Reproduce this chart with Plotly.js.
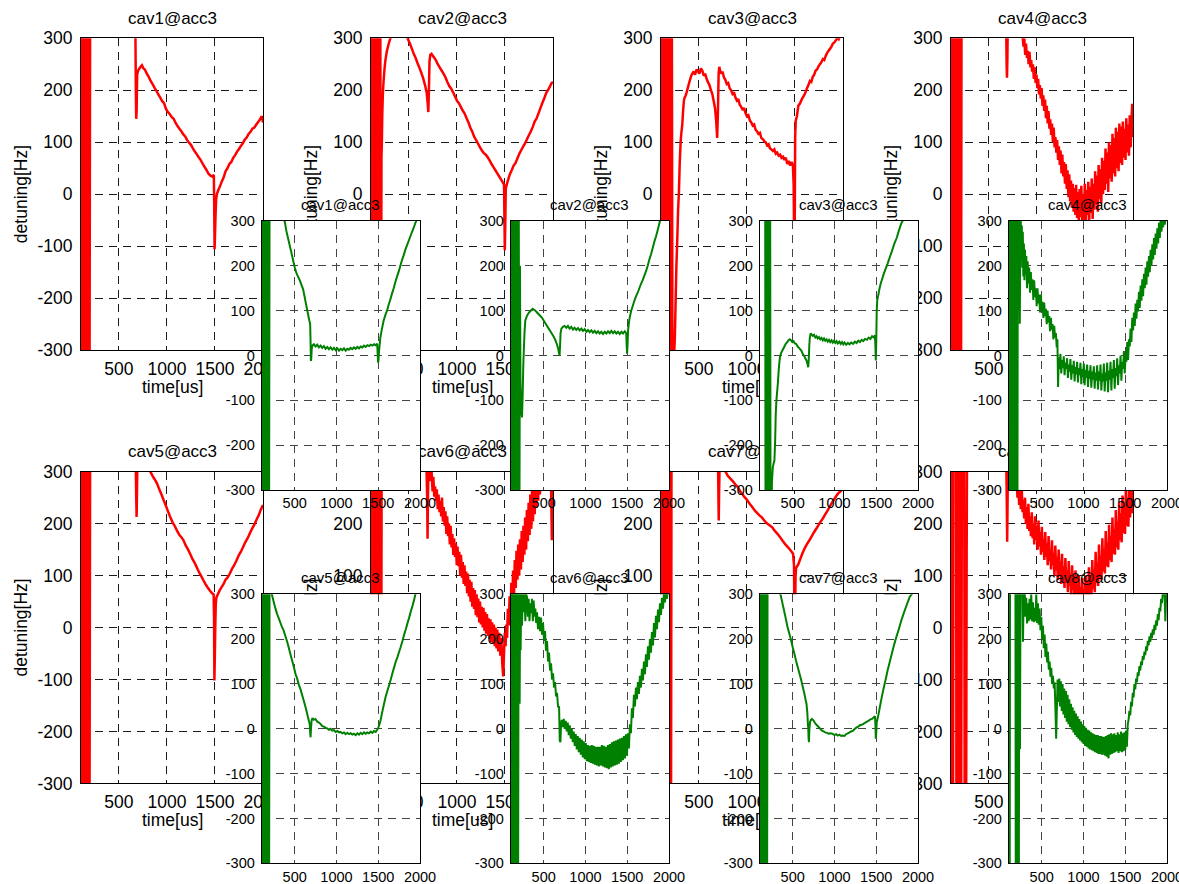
<!DOCTYPE html>
<html><head><meta charset="utf-8">
<script src="https://cdn.plot.ly/plotly-3.0.1.min.js"></script>
<style>
html,body{margin:0;padding:0;background:#fff;}
#red,#green{position:absolute;left:0;top:0;width:1179px;height:884px;}
</style>
</head><body>
<div id="red"></div><div id="green"></div>
<script>
// ---------------- data ----------------
const titles = ['cav1@acc3','cav2@acc3','cav3@acc3','cav4@acc3','cav5@acc3','cav6@acc3','cav7@acc3','cav8@acc3'];
const xTitle = 'time[us]';
const yTitle = 'detuning[Hz]';
const xTickVals = [500,1000,1500,2000];
const xTickText = ['500','1000','1500','2000'];
const yTickVals = [-300,-200,-100,0,100,200,300];
const yTickText = ['-300','-200','-100','0','100','200','300'];
const timeRange = [105, 2000];
const detRange = [-300, 300];

// red series: [time us, detuning Hz]
const red1 = [[105,450],[113,-450],[121,450],[129,-450],[137,450],[145,-450],[153,450],[161,-450],[169,450],[177,-450],[185,450],[193,-450],[201,450],
[400,420],[660,330],[672,300],[676,200],[680,145],[684,160],[690,230],[700,238],[710,241],[725,245],[740,248],[755,242],[770,240],[790,232],[810,226],[830,218],[850,212],[870,205],[890,199],[910,192],[930,186],[950,179],[970,175],[990,164],[1010,158],[1030,154],[1050,148],[1070,145],[1090,137],[1110,131],[1130,126],[1150,121],[1170,115],[1190,111],[1210,104],[1230,99],[1250,95],[1270,88],[1290,82],[1310,77],[1330,71],[1350,66],[1370,59],[1390,53],[1410,47],[1430,40],[1450,36],[1470,34],[1488,37],[1492,-20],[1496,-106],[1500,-80],[1506,-40],[1512,-10],[1520,0],[1535,8],[1550,14],[1570,24],[1590,32],[1610,44],[1630,50],[1650,58],[1670,62],[1690,70],[1710,75],[1730,82],[1750,87],[1770,93],[1790,98],[1810,105],[1830,109],[1850,116],[1870,120],[1890,126],[1910,128],[1930,134],[1950,139],[1970,144],[1985,150],[1993,146],[2000,138]];

const red2 = [[105,450],[113,-450],[121,450],[129,-450],[137,450],[145,-450],[153,450],[161,-450],[169,450],[177,-450],[185,450],[193,-450],[201,450],[209,-450],
[214,70],[218,100],[222,150],[228,190],[235,215],[245,240],[255,258],[270,275],[290,290],[310,302],[330,315],[400,330],[470,310],[490,298],[510,290],[530,280],[550,270],[570,262],[590,252],[610,243],[630,233],[650,222],[670,208],[685,195],[695,175],[702,158],[708,200],[714,255],[722,268],[735,270],[750,266],[765,262],[780,258],[800,250],[820,244],[840,238],[860,232],[880,225],[900,216],[920,208],[940,203],[960,196],[980,188],[1000,180],[1020,175],[1040,168],[1060,161],[1080,155],[1100,146],[1120,138],[1140,128],[1160,120],[1180,110],[1200,104],[1220,97],[1240,90],[1260,84],[1280,79],[1300,76],[1320,71],[1340,65],[1360,58],[1380,52],[1400,46],[1420,40],[1440,34],[1460,28],[1480,22],[1490,18],[1494,-40],[1498,-108],[1503,-60],[1508,10],[1515,16],[1530,26],[1550,38],[1570,46],[1590,55],[1610,60],[1630,69],[1650,78],[1670,85],[1690,92],[1710,98],[1730,106],[1750,114],[1770,121],[1790,130],[1810,140],[1830,146],[1850,156],[1870,166],[1890,176],[1910,185],[1930,195],[1950,201],[1970,208],[1985,214],[2000,216]];

const red3 = [[105,450],[113,-450],[121,450],[129,-450],[137,450],[145,-450],[153,450],[161,-450],[169,450],[177,-450],[185,450],[193,-450],[201,450],[209,-450],[217,450],[225,-450],
[240,-320],[250,-270],[258,-200],[265,-140],[275,-84],[283,-30],[292,6],[300,60],[310,103],[318,120],[327,135],[335,160],[344,181],[352,186],[362,190],[372,196],[385,205],[396,213],[410,222],[420,228],[431,232],[445,236],[460,230],[475,240],[490,236],[505,232],[520,242],[535,238],[550,228],[565,232],[580,222],[595,215],[610,210],[625,200],[640,192],[655,178],[668,165],[680,140],[690,108],[698,160],[705,232],[712,245],[720,238],[732,232],[745,236],[760,225],[775,220],[790,212],[805,214],[820,204],[835,200],[850,193],[865,196],[880,186],[895,180],[910,183],[925,172],[940,168],[955,162],[970,166],[985,156],[1000,150],[1015,152],[1030,142],[1045,138],[1060,132],[1075,134],[1090,124],[1105,121],[1120,116],[1135,118],[1150,108],[1165,106],[1180,102],[1195,100],[1210,94],[1225,96],[1240,88],[1255,86],[1270,83],[1285,86],[1300,78],[1315,80],[1330,74],[1345,76],[1360,70],[1375,72],[1390,66],[1405,70],[1420,58],[1435,64],[1450,55],[1465,62],[1478,56],[1486,20],[1490,-60],[1494,-110],[1498,-40],[1502,110],[1508,142],[1520,150],[1535,170],[1550,174],[1565,180],[1580,186],[1595,190],[1610,196],[1625,204],[1640,210],[1655,218],[1670,216],[1685,226],[1700,230],[1715,238],[1730,240],[1745,246],[1760,250],[1775,254],[1790,260],[1805,258],[1820,266],[1835,272],[1850,276],[1865,280],[1880,284],[1895,290],[1910,292],[1925,296],[1940,300],[1955,298],[1970,306],[1985,302],[2000,308]];

const red4 = [[105,450],[113,-450],[121,450],[129,-450],[137,450],[145,-450],[153,450],[161,-450],[169,450],[177,-450],[185,450],[193,-450],[201,450],[209,-450],[215,400],
[600,380],[680,320],[684,250],[688,224],[692,260],[696,330],[800,340],[850,305],[860,284],[868,300],[878,268],[886,290],[896,262],[905,276],[913,250],[922,274],[932,244],[940,258],[950,236],[958,250],[968,222],[976,244],[986,214],[995,230],[1004,204],[1012,222],[1022,192],[1030,210],[1040,184],[1048,204],[1058,170],[1066,190],[1076,160],[1084,182],[1094,146],[1102,170],[1112,136],[1120,160],[1130,126],[1138,144],[1148,114],[1156,136],[1166,100],[1174,128],[1184,90],[1192,110],[1202,80],[1210,104],[1220,66],[1228,92],[1238,56],[1246,84],[1256,40],[1264,76],[1274,34],[1282,62],[1292,20],[1300,58],[1310,10],[1318,46],[1328,-6],[1336,38],[1346,-14],[1354,26],[1364,-26],[1372,20],[1382,-34],[1390,12],[1400,-40],[1408,18],[1418,-46],[1426,4],[1436,-54],[1444,10],[1454,-44],[1462,16],[1472,-58],[1480,0],[1490,-50],[1498,20],[1508,-62],[1516,8],[1526,-40],[1534,24],[1544,-56],[1552,14],[1562,-36],[1570,30],[1580,-48],[1588,20],[1598,-30],[1606,44],[1616,-20],[1624,36],[1634,-34],[1642,56],[1652,-10],[1660,48],[1670,-18],[1678,70],[1688,0],[1696,64],[1706,8],[1714,88],[1724,20],[1732,80],[1742,4],[1750,100],[1760,30],[1768,94],[1778,24],[1786,116],[1796,40],[1804,108],[1814,34],[1822,128],[1832,50],[1840,120],[1850,44],[1858,136],[1868,60],[1876,130],[1886,56],[1894,140],[1904,70],[1912,126],[1922,66],[1930,146],[1940,80],[1948,134],[1958,74],[1966,152],[1976,90],[1984,140],[1992,174],[2000,110]];

const red5 = [[105,450],[113,-450],[121,450],[129,-450],[137,450],[145,-450],[153,450],[161,-450],[169,450],[177,-450],[185,450],[193,-450],[201,450],
[400,420],[660,330],[676,300],[680,250],[684,213],[688,260],[692,320],[800,320],[828,300],[850,292],[870,286],[897,277],[920,266],[945,255],[966,245],[990,234],[1010,224],[1034,213],[1060,202],[1080,196],[1103,187],[1130,178],[1150,174],[1172,168],[1195,158],[1220,150],[1241,142],[1265,132],[1290,124],[1310,116],[1335,106],[1360,98],[1379,91],[1400,84],[1420,78],[1448,71],[1470,66],[1486,64],[1490,20],[1494,-102],[1498,-60],[1503,0],[1508,45],[1515,58],[1530,64],[1550,72],[1569,78],[1590,84],[1610,92],[1630,96],[1655,104],[1680,114],[1700,120],[1724,129],[1750,140],[1770,146],[1793,155],[1815,164],[1840,172],[1862,181],[1885,190],[1910,198],[1931,207],[1955,216],[1975,226],[1990,232],[2000,236]];

const red6 = [[105,450],[113,-450],[121,450],[129,-450],[137,450],[145,-450],[153,450],[161,-450],[169,450],[177,-450],[185,450],[193,-450],[201,450],[209,-450],[217,450],
[680,330],[690,250],[694,171],[698,250],[705,330],[719,305],[728,282],[736,300],[746,262],[754,290],[764,252],[772,272],[782,244],[790,266],[800,228],[808,256],[818,222],[826,244],[836,214],[844,250],[854,204],[862,232],[872,196],[880,224],[890,180],[898,214],[908,176],[916,200],[926,160],[934,196],[944,154],[952,180],[962,140],[970,172],[980,136],[988,162],[998,120],[1006,156],[1016,118],[1024,146],[1034,100],[1042,140],[1052,96],[1060,126],[1070,84],[1078,120],[1088,80],[1096,108],[1106,66],[1114,104],[1124,60],[1132,92],[1142,50],[1150,88],[1160,40],[1168,76],[1178,36],[1186,72],[1196,24],[1204,64],[1214,20],[1222,56],[1232,10],[1240,50],[1250,6],[1258,40],[1268,0],[1276,38],[1286,-6],[1294,30],[1304,-12],[1312,26],[1322,-16],[1330,18],[1340,-22],[1348,16],[1358,-28],[1366,10],[1376,-30],[1384,6],[1394,-36],[1402,0],[1412,-40],[1420,-4],[1430,-46],[1440,-10],[1452,-54],[1462,-20],[1472,-70],[1482,-94],[1490,-50],[1498,-10],[1506,-36],[1514,6],[1522,-20],[1530,36],[1540,4],[1548,60],[1558,24],[1566,86],[1576,40],[1584,110],[1594,60],[1602,130],[1612,76],[1620,148],[1630,92],[1638,160],[1648,100],[1656,170],[1666,112],[1674,186],[1684,126],[1692,196],[1702,140],[1710,212],[1720,150],[1728,226],[1738,166],[1746,240],[1756,178],[1764,256],[1774,190],[1782,270],[1792,204],[1800,288],[1810,218],[1818,300],[1828,230],[1836,316],[1846,244],[1854,326],[1864,256],[1872,340],[1882,268],[1890,340],[1900,280],[1910,340],[1920,290],[1930,340],[1942,300],[1952,340],[1962,310],[1972,330],[1982,250],[1988,168],[1994,320],[2000,300]];

const red7 = [[105,450],[113,-450],[121,450],[129,-450],[137,450],[145,-450],[153,450],[161,-450],[169,450],[177,-450],[185,450],[193,-450],[201,450],[209,-450],[215,420],
[680,330],[700,300],[703,250],[706,206],[710,260],[716,320],[760,320],[777,300],[800,292],[830,286],[860,280],[880,275],[903,271],[930,262],[955,256],[975,251],[1000,246],[1030,238],[1055,232],[1083,225],[1110,220],[1130,216],[1155,212],[1180,206],[1210,200],[1235,197],[1263,193],[1290,186],[1320,180],[1345,174],[1371,167],[1400,160],[1430,154],[1461,147],[1480,142],[1490,120],[1494,20],[1498,-100],[1502,40],[1506,100],[1512,115],[1533,121],[1555,132],[1580,144],[1600,152],[1623,160],[1650,168],[1675,176],[1700,184],[1731,193],[1760,202],[1790,210],[1815,218],[1839,225],[1865,234],[1890,242],[1911,248],[1940,256],[1960,260],[1983,264],[2000,271]];

const red8 = [[105,450],[109,-450],[113,450],[117,-450],[121,450],[126,-450],[132,450],[158,450],[162,-450],[172,-450],[178,450],[192,450],[196,-450],[210,-450],[220,450],[242,450],[248,-450],[262,-450],[268,139],[272,330],
[680,330],[686,240],[690,165],[694,240],[700,330],[780,330],[788,290],[797,250],[806,276],[815,236],[823,262],[832,228],[841,270],[850,222],[858,246],[867,210],[876,250],[885,200],[893,232],[902,190],[911,238],[920,186],[928,214],[937,176],[946,222],[955,172],[963,200],[972,160],[981,214],[990,168],[998,196],[1007,150],[1016,206],[1025,156],[1033,184],[1042,140],[1051,194],[1060,146],[1068,170],[1077,130],[1086,184],[1095,136],[1103,162],[1112,120],[1121,176],[1130,128],[1138,150],[1147,112],[1156,168],[1165,120],[1173,144],[1182,100],[1191,158],[1200,110],[1208,136],[1217,92],[1226,150],[1235,100],[1243,128],[1252,84],[1261,142],[1270,94],[1278,118],[1287,76],[1296,134],[1305,86],[1313,110],[1322,68],[1331,128],[1340,80],[1348,100],[1357,60],[1366,120],[1375,72],[1383,92],[1392,50],[1401,110],[1410,62],[1418,84],[1427,40],[1436,100],[1445,52],[1453,78],[1462,34],[1471,96],[1480,46],[1488,74],[1497,30],[1506,100],[1515,52],[1523,90],[1532,46],[1541,116],[1550,62],[1558,100],[1567,56],[1576,130],[1585,74],[1593,112],[1602,68],[1611,146],[1620,86],[1628,124],[1637,80],[1646,160],[1655,96],[1663,138],[1672,92],[1681,172],[1690,108],[1698,150],[1707,104],[1716,186],[1725,118],[1733,164],[1742,116],[1751,198],[1760,130],[1768,176],[1777,126],[1786,212],[1795,142],[1803,190],[1812,140],[1821,226],[1830,154],[1838,204],[1847,150],[1856,240],[1865,168],[1873,220],[1882,164],[1891,254],[1900,182],[1908,236],[1917,180],[1926,268],[1935,196],[1943,250],[1952,194],[1961,280],[1970,212],[1978,264],[1987,290],[1994,220],[2000,250]];

// green series: [time us, detuning Hz]
const green1 = [[105,450],[113,-450],[121,450],[129,-450],[137,450],[145,-450],[153,450],[161,-450],[169,450],[177,-450],[185,450],[193,-450],[200,450],
[300,360],[380,300],[400,278],[420,262],[440,246],[460,230],[480,213],[500,197],[520,184],[540,176],[560,168],[580,158],[600,148],[620,130],[640,110],[660,92],[675,78],[685,70],[690,30],[694,-12],[698,-8],[704,15],[712,22],[730,25],[750,20],[770,24],[790,18],[810,22],[830,17],[850,21],[870,15],[890,19],[910,14],[930,18],[950,13],[970,17],[990,12],[1010,16],[1030,11],[1050,15],[1070,12],[1090,16],[1110,11],[1130,15],[1150,13],[1170,17],[1190,14],[1210,18],[1230,15],[1250,19],[1270,16],[1290,20],[1310,18],[1330,22],[1350,19],[1370,23],[1390,21],[1410,24],[1430,22],[1450,25],[1470,23],[1488,26],[1494,0],[1498,-16],[1503,-10],[1510,10],[1525,40],[1545,60],[1565,78],[1585,90],[1605,100],[1625,113],[1645,125],[1665,138],[1685,150],[1705,164],[1725,176],[1745,187],[1765,200],[1785,213],[1805,224],[1825,236],[1845,246],[1865,256],[1885,266],[1905,276],[1925,285],[1945,296],[1965,305],[2000,330]];

const green2 = [[105,450],[113,-450],[121,450],[129,-450],[137,450],[145,-450],[153,450],[161,-450],[169,450],[177,-450],[185,450],[193,-450],[201,450],[209,-450],[216,200],
[222,-60],[230,-120],[240,-138],[248,-90],[256,-20],[262,11],[270,50],[280,78],[295,86],[310,92],[330,97],[350,101],[370,104],[385,102],[400,100],[420,96],[440,92],[460,88],[480,84],[500,78],[520,72],[540,66],[560,60],[580,54],[600,48],[620,42],[640,34],[660,24],[675,14],[685,4],[690,0],[696,22],[702,50],[712,60],[730,64],[750,66],[770,62],[790,66],[810,60],[830,64],[850,58],[870,62],[890,57],[910,61],[930,56],[950,60],[970,55],[990,59],[1010,53],[1030,57],[1050,52],[1070,56],[1090,51],[1110,55],[1130,50],[1150,54],[1170,49],[1190,53],[1210,48],[1230,53],[1250,49],[1270,54],[1290,50],[1310,55],[1330,50],[1350,54],[1370,49],[1390,53],[1410,48],[1430,53],[1450,49],[1470,54],[1488,50],[1494,20],[1498,4],[1503,20],[1510,56],[1525,80],[1545,98],[1565,110],[1585,122],[1605,132],[1625,140],[1645,150],[1665,160],[1685,168],[1705,178],[1725,188],[1745,200],[1765,214],[1785,226],[1805,240],[1825,254],[1845,266],[1865,280],[1885,295],[1905,310],[2000,360]];

const green3 = [[105,500],[170,500],[175,-450],[180,450],[185,-450],[190,450],[195,-450],[200,450],[205,-450],[210,450],[215,-450],[220,450],[225,-450],[230,450],[235,-450],
[252,-280],[262,-250],[272,-240],[281,-235],[290,-190],[297,-131],[305,-100],[314,-80],[322,-63],[330,-40],[338,-20],[347,-4],[360,5],[376,11],[395,18],[417,26],[435,30],[450,34],[465,36],[479,34],[495,30],[510,32],[525,27],[541,26],[560,20],[580,16],[603,11],[620,4],[640,-2],[655,-8],[665,-11],[675,-18],[686,-26],[692,-10],[698,20],[705,40],[715,49],[727,47],[740,44],[755,46],[770,40],[785,43],[800,38],[815,41],[830,36],[845,39],[860,34],[875,38],[890,33],[905,36],[920,31],[935,35],[950,30],[965,34],[980,29],[995,33],[1010,28],[1025,32],[1040,27],[1058,31],[1075,26],[1090,30],[1105,25],[1120,29],[1140,24],[1160,28],[1180,25],[1200,29],[1223,26],[1245,31],[1265,28],[1285,33],[1305,30],[1325,35],[1345,32],[1365,37],[1388,35],[1410,40],[1430,37],[1450,43],[1471,40],[1485,45],[1490,20],[1495,-11],[1500,30],[1506,100],[1512,123],[1525,135],[1540,150],[1553,160],[1570,170],[1590,182],[1610,192],[1636,205],[1660,218],[1690,234],[1718,250],[1745,262],[1770,278],[1801,295],[1815,300],[1850,320],[2000,380]];

const green4 = [[105,450],[113,-450],[121,450],[129,-450],[137,450],[145,-450],[153,450],[161,-450],[169,450],[177,-450],[185,450],[193,-450],[201,450],[209,-450],[215,450],
[225,300],[232,250],[238,71],[244,260],[250,300],[256,230],[262,290],[268,196],[274,276],[280,176],[287,250],[293,168],[300,236],[308,180],[316,222],[324,150],[332,210],[340,160],[350,196],[360,140],[370,186],[380,146],[390,170],[400,124],[410,168],[420,130],[430,150],[440,110],[450,150],[460,116],[470,136],[480,96],[490,136],[500,102],[510,120],[520,84],[530,118],[540,88],[550,104],[560,70],[570,100],[580,74],[590,88],[600,54],[610,84],[620,58],[630,70],[640,36],[650,66],[660,40],[670,50],[680,18],[688,36],[696,-70],[704,-4],[714,-30],[724,4],[734,-40],[744,-10],[754,-28],[764,-2],[774,-44],[784,-16],[794,-30],[804,-6],[814,-50],[824,-20],[834,-36],[844,-8],[854,-54],[864,-22],[874,-40],[884,-12],[894,-58],[904,-26],[914,-42],[924,-14],[934,-60],[944,-28],[954,-44],[964,-16],[974,-64],[984,-30],[994,-48],[1004,-18],[1014,-66],[1024,-32],[1034,-50],[1044,-20],[1054,-70],[1064,-34],[1074,-52],[1084,-22],[1094,-72],[1104,-36],[1114,-54],[1124,-24],[1134,-74],[1144,-38],[1154,-56],[1164,-22],[1174,-76],[1184,-36],[1194,-56],[1204,-20],[1214,-78],[1224,-40],[1234,-58],[1244,-18],[1254,-80],[1264,-38],[1274,-56],[1284,-16],[1294,-82],[1304,-34],[1314,-54],[1324,-14],[1334,-78],[1344,-30],[1354,-50],[1364,-10],[1374,-74],[1384,-28],[1394,-46],[1404,-6],[1414,-66],[1424,-22],[1434,-40],[1444,0],[1454,-56],[1464,-14],[1474,-30],[1484,10],[1494,-40],[1504,0],[1514,-14],[1524,30],[1534,-10],[1544,36],[1554,20],[1564,60],[1574,30],[1584,84],[1594,56],[1604,96],[1614,66],[1624,116],[1634,82],[1644,124],[1654,98],[1664,142],[1674,106],[1684,156],[1694,122],[1704,170],[1714,132],[1724,182],[1734,150],[1744,196],[1754,158],[1764,210],[1774,176],[1784,222],[1794,186],[1804,236],[1814,200],[1824,248],[1834,214],[1844,262],[1854,224],[1864,272],[1874,238],[1884,284],[1894,250],[1904,296],[1914,262],[1924,306],[1934,276],[1944,300],[1954,286],[1964,320],[1974,292],[1984,310],[2000,320]];

const green5 = [[105,450],[113,-450],[121,450],[129,-450],[137,450],[145,-450],[153,450],[161,-450],[169,450],[177,-450],[185,450],[193,-450],[200,450],
[215,330],[228,299],[250,282],[270,268],[288,257],[310,246],[330,236],[350,226],[368,219],[390,206],[410,194],[430,180],[448,167],[470,152],[490,138],[510,122],[528,113],[550,98],[570,88],[590,75],[608,63],[630,48],[650,33],[668,19],[680,10],[686,-10],[690,-19],[695,0],[702,18],[712,24],[728,20],[748,22],[770,16],[790,14],[808,11],[830,6],[850,5],[870,2],[890,1],[910,-2],[928,0],[950,-4],[970,-3],[990,-7],[1010,-5],[1030,-8],[1048,-7],[1070,-10],[1090,-8],[1110,-12],[1130,-9],[1150,-12],[1170,-10],[1190,-13],[1208,-11],[1230,-14],[1250,-10],[1270,-13],[1290,-9],[1310,-12],[1330,-8],[1350,-11],[1368,-8],[1390,-10],[1410,-6],[1430,-9],[1450,-5],[1470,-7],[1488,-2],[1500,2],[1515,10],[1528,19],[1545,35],[1565,52],[1588,71],[1610,85],[1630,97],[1650,110],[1668,123],[1690,137],[1710,150],[1730,160],[1750,172],[1768,182],[1790,196],[1810,210],[1830,222],[1848,234],[1870,248],[1890,262],[1910,274],[1928,287],[1945,300],[1970,318],[2000,340]];

const green6 = [[105,450],[113,-450],[121,450],[129,-450],[137,450],[145,-450],[153,450],[161,-450],[169,450],[177,-450],[185,450],[193,-450],[201,450],
[212,56],[218,300],[224,175],[232,320],[240,230],[250,300],[260,260],[270,310],[280,240],[290,300],[300,294],[310,250],[320,290],[330,240],[340,280],[350,258],[360,290],[370,240],[380,286],[390,250],[400,268],[410,236],[420,260],[432,222],[444,250],[456,218],[468,248],[480,210],[492,236],[504,196],[516,218],[528,174],[540,196],[552,150],[564,170],[576,130],[588,146],[600,110],[612,124],[624,92],[636,104],[648,72],[660,80],[672,48],[684,50],[692,-26],[700,-30],[708,10],[716,20],[728,4],[740,22],[752,0],[764,18],[776,-6],[788,14],[800,-14],[812,8],[824,-22],[836,0],[848,-30],[860,-6],[872,-38],[884,-12],[896,-46],[908,-16],[920,-52],[932,-20],[944,-58],[956,-24],[968,-64],[980,-28],[992,-68],[1004,-32],[1016,-72],[1028,-36],[1040,-74],[1052,-38],[1064,-76],[1076,-36],[1088,-78],[1100,-38],[1112,-80],[1124,-40],[1136,-82],[1148,-40],[1160,-84],[1172,-40],[1184,-82],[1196,-36],[1208,-84],[1220,-38],[1232,-86],[1244,-40],[1256,-88],[1268,-36],[1280,-90],[1292,-34],[1304,-86],[1316,-30],[1328,-84],[1340,-28],[1352,-82],[1364,-26],[1376,-80],[1388,-24],[1400,-78],[1412,-22],[1424,-74],[1436,-20],[1448,-70],[1460,-16],[1472,-66],[1484,-12],[1496,-60],[1508,-10],[1520,-44],[1532,10],[1544,-10],[1556,46],[1568,24],[1580,76],[1592,50],[1604,92],[1616,66],[1628,104],[1640,78],[1652,118],[1664,92],[1676,134],[1688,108],[1700,150],[1712,122],[1724,166],[1736,138],[1748,184],[1760,154],[1772,200],[1784,170],[1796,216],[1808,186],[1820,236],[1832,204],[1844,252],[1856,222],[1868,266],[1880,238],[1892,280],[1904,254],[1916,292],[1928,268],[1940,304],[1952,282],[1964,312],[1976,290],[1988,320],[2000,306]];

const green7 = [[105,450],[113,-450],[121,450],[129,-450],[137,450],[145,-450],[153,450],[161,-450],[169,450],[177,-450],[185,450],[193,-450],[200,450],
[300,360],[355,299],[375,282],[395,265],[415,248],[438,227],[460,212],[480,198],[500,182],[521,167],[540,152],[560,138],[580,124],[603,108],[620,94],[640,78],[655,64],[665,56],[675,36],[682,10],[686,4],[690,-20],[694,-30],[700,0],[708,15],[715,19],[730,22],[748,19],[770,12],[790,8],[810,4],[830,0],[851,-4],[870,-6],[890,-8],[910,-9],[930,-11],[950,-10],[975,-11],[1000,-14],[1020,-12],[1040,-15],[1060,-13],[1080,-16],[1099,-15],[1120,-16],[1140,-12],[1160,-10],[1180,-8],[1200,-6],[1223,-4],[1245,0],[1265,3],[1285,5],[1305,8],[1325,9],[1347,11],[1370,14],[1390,16],[1410,18],[1430,21],[1450,22],[1471,26],[1485,28],[1490,10],[1495,-22],[1500,-10],[1506,15],[1512,19],[1530,35],[1550,55],[1574,78],[1600,100],[1620,116],[1636,130],[1660,148],[1690,170],[1718,190],[1740,204],[1770,222],[1801,242],[1830,258],[1860,274],[1884,286],[1900,294],[1925,300],[1950,310],[2000,330]];

const green8 = [[105,450],[109,-450],[113,450],[117,-450],[121,450],[185,450],[190,-450],[196,450],[204,-450],[212,450],[218,-450],[226,-450],[232,400],[240,-45],[246,300],[268,350],
[276,194],[284,300],[295,320],[305,250],[315,292],[325,235],[335,280],[345,240],[355,290],[365,244],[375,300],[385,240],[395,282],[405,238],[415,270],[425,240],[435,300],[445,236],[455,280],[465,232],[475,268],[485,220],[495,250],[505,200],[515,230],[525,180],[535,210],[545,160],[555,190],[565,148],[575,172],[585,132],[595,150],[605,116],[615,136],[625,100],[635,118],[645,90],[655,104],[665,40],[673,-22],[681,40],[690,110],[700,60],[710,112],[720,50],[730,106],[740,40],[750,100],[760,32],[770,90],[780,24],[790,84],[800,16],[810,76],[820,10],[830,66],[840,4],[850,56],[860,-2],[870,48],[880,-8],[890,40],[900,-14],[910,34],[920,-18],[930,28],[940,-22],[950,22],[960,-26],[970,16],[980,-30],[990,10],[1000,-34],[1010,6],[1020,-38],[1030,2],[1040,-40],[1050,-2],[1060,-44],[1070,-4],[1080,-46],[1090,-8],[1100,-48],[1110,-10],[1120,-50],[1130,-12],[1140,-52],[1150,-14],[1160,-54],[1170,-14],[1180,-56],[1190,-16],[1200,-56],[1210,-16],[1220,-58],[1230,-18],[1240,-58],[1250,-18],[1260,-60],[1270,-16],[1280,-62],[1290,-14],[1300,-66],[1310,-12],[1320,-58],[1330,-10],[1340,-56],[1350,-12],[1360,-54],[1370,-10],[1380,-52],[1390,-14],[1400,-50],[1410,-8],[1420,-54],[1430,-12],[1440,-50],[1450,-6],[1460,-52],[1470,-10],[1480,-50],[1490,-8],[1500,-48],[1510,-4],[1520,-40],[1530,10],[1540,20],[1550,40],[1560,30],[1570,60],[1580,50],[1590,80],[1600,70],[1610,100],[1620,88],[1630,112],[1640,104],[1650,126],[1660,118],[1670,140],[1680,130],[1690,150],[1700,142],[1710,162],[1720,154],[1730,172],[1740,164],[1750,184],[1760,174],[1770,196],[1780,186],[1790,206],[1800,194],[1810,214],[1820,202],[1830,222],[1840,210],[1850,232],[1860,220],[1870,242],[1880,230],[1890,256],[1900,242],[1910,270],[1920,262],[1930,290],[1940,280],[1950,304],[1960,296],[1970,310],[1980,240],[1990,300],[2000,310]];

const redSeries = [red1, red2, red3, red4, red5, red6, red7, red8];
const greenSeries = [green1, green2, green3, green4, green5, green6, green7, green8];

// ---------------- drawing ----------------
const W = 1179, H = 884;
const FONT = 'Liberation Sans, Arial, Helvetica, sans-serif';

function makeFigure(series, color, lineW, geo) {
  const data = [], layout = {
    width: W, height: H, autosize: false,
    margin: {l: 0, r: 0, t: 0, b: 0, pad: 0},
    paper_bgcolor: geo.paper, plot_bgcolor: '#ffffff',
    showlegend: false, hovermode: false,
    font: {family: FONT, color: '#000', size: geo.tick},
    annotations: []
  };
  series.forEach((s, i) => {
    const col = i % 4, row = Math.floor(i / 4);
    const left = geo.lefts[col], top = geo.tops[row];
    const n = i === 0 ? '' : String(i + 1);
    data.push({
      type: 'scatter', mode: 'lines',
      x: s.map(p => p[0]), y: s.map(p => p[1]),
      xaxis: 'x' + n, yaxis: 'y' + n,
      line: {color: color, width: lineW, simplify: false}
    });
    const common = {
      showline: true, mirror: true, linecolor: '#000', linewidth: 1,
      showgrid: true, gridcolor: geo.grid, gridwidth: 1, griddash: '8px,6px',
      zeroline: false, ticks: '', tickangle: 0, fixedrange: true,
      tickfont: {family: FONT, size: geo.tick, color: '#000'},
      ticklabeloverflow: 'allow', automargin: false
    };
    layout['xaxis' + n] = Object.assign({}, common, {
      domain: [left / W, (left + geo.w) / W], anchor: 'y' + n,
      range: timeRange, tickmode: 'array', tickvals: xTickVals, ticktext: xTickText,
      ticklabelstandoff: geo.xStand
    });
    layout['yaxis' + n] = Object.assign({}, common, {
      domain: [1 - (top + geo.h) / H, 1 - top / H], anchor: 'x' + n,
      range: detRange, tickmode: 'array', tickvals: yTickVals, ticktext: yTickText,
      ticklabelstandoff: geo.yStand
    });
    layout.annotations.push({
      xref: 'paper', yref: 'paper', showarrow: false,
      x: (left + geo.w / 2) / W, y: 1 - (top - geo.titleOff) / H,
      xanchor: 'center', yanchor: 'middle', text: titles[i],
      font: {family: FONT, size: geo.titleSize, color: '#000'}
    });
    if (geo.axisTitles) {
      layout.annotations.push({
        xref: 'paper', yref: 'paper', showarrow: false,
        x: (left + geo.w / 2) / W, y: 1 - (top + geo.h + geo.xtOff) / H,
        xanchor: 'center', yanchor: 'middle', text: xTitle,
        font: {family: FONT, size: geo.labelSize, color: '#000'}
      });
      layout.annotations.push({
        xref: 'paper', yref: 'paper', showarrow: false, textangle: -90,
        x: (left - geo.ytOff) / W, y: 1 - (top + geo.h / 2) / H,
        xanchor: 'center', yanchor: 'middle', text: yTitle,
        font: {family: FONT, size: geo.labelSize, color: '#000'}
      });
    }
  });
  return {data, layout};
}

const redGeo = {
  lefts: [81, 371, 661, 951], tops: [38.3, 471.7], w: 182, h: 311.7,
  paper: '#ffffff', grid: '#1a1a1a', tick: 17.5, titleSize: 17, labelSize: 17.5,
  titleOff: 20, xtOff: 37, ytOff: 60, xStand: 3, yStand: 4, axisTitles: true
};
const greenGeo = {
  lefts: [261.7, 510.7, 759.7, 1008.7], tops: [221, 594.3], w: 158.3, h: 269,
  paper: 'rgba(0,0,0,0)', grid: '#444444', tick: 14.5, titleSize: 15, labelSize: 14.5,
  titleOff: 17, xtOff: 0, ytOff: 0, xStand: 0, yStand: 3, axisTitles: false
};

const figR = makeFigure(redSeries, '#ff0000', 2.5, redGeo);
const figG = makeFigure(greenSeries, '#008000', 2, greenGeo);
const cfg = {staticPlot: true, displayModeBar: false, responsive: false};
Plotly.newPlot('red', figR.data, figR.layout, cfg);
Plotly.newPlot('green', figG.data, figG.layout, cfg);
</script>
</body></html>
